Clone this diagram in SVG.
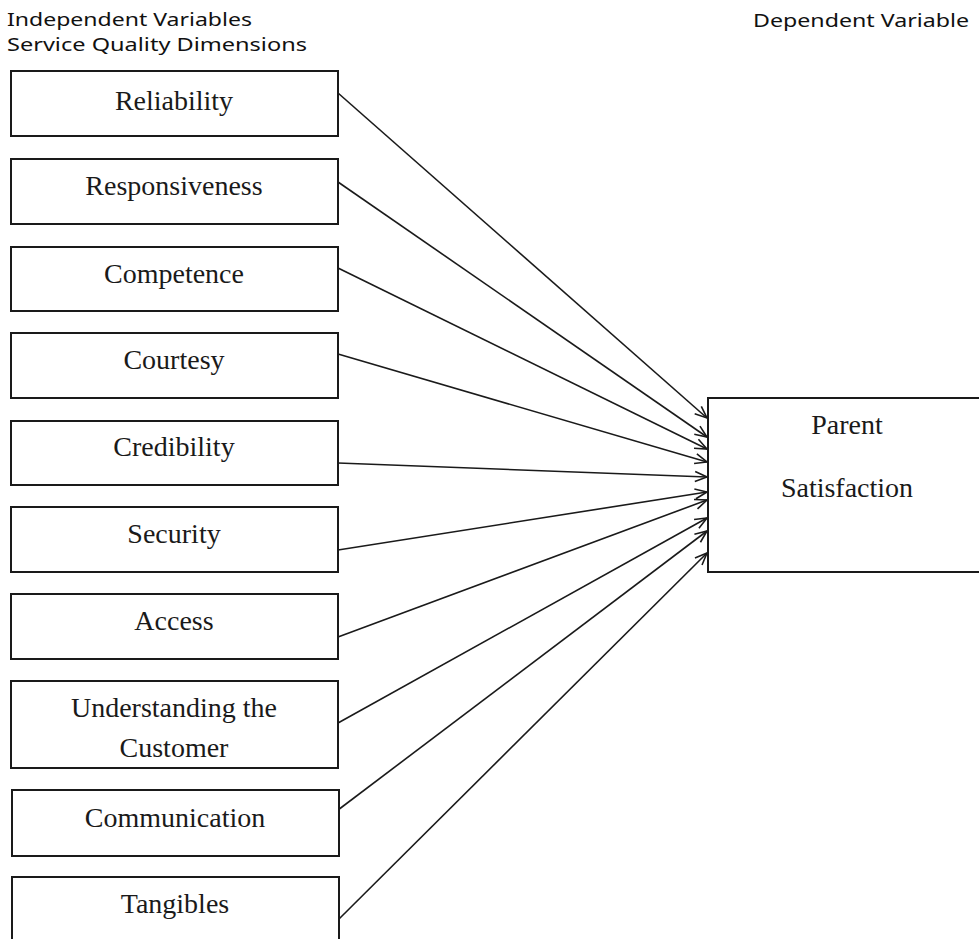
<svg xmlns="http://www.w3.org/2000/svg" width="979" height="939" viewBox="0 0 979 939">
<defs>
<marker id="ah" markerUnits="userSpaceOnUse" markerWidth="16" markerHeight="14" refX="13" refY="6" orient="auto" viewBox="0 0 16 12">
<path d="M1,1 L13,6 L1,11" fill="none" stroke="#1a1a1a" stroke-width="1.6"/>
</marker>
<style>
.box{fill:#fff;stroke:#1a1a1a;stroke-width:2}
.lbl{font-family:"Liberation Serif","Times New Roman",serif;font-size:28px;fill:#1a1a1a;text-anchor:middle}
.hdr{font-family:"Noto Sans","Noto Sans CJK KR",sans-serif;font-size:18px;fill:#111}
.con line{stroke:#1a1a1a;stroke-width:1.6;marker-end:url(#ah)}
</style>
</defs>
<rect width="979" height="939" fill="#fff"/>
<g id="headers">
<text class="hdr" x="7" y="26" textLength="245" lengthAdjust="spacingAndGlyphs">Independent  Variables</text>
<text class="hdr" x="7" y="51" textLength="300" lengthAdjust="spacingAndGlyphs">Service  Quality  Dimensions</text>
<text class="hdr" x="753" y="27" textLength="216" lengthAdjust="spacingAndGlyphs">Dependent  Variable</text>
</g>
<g class="con" id="connectors">
<line x1="338" y1="93" x2="707" y2="418"/>
<line x1="338" y1="182" x2="707" y2="437"/>
<line x1="338" y1="268" x2="707" y2="449"/>
<line x1="338" y1="354" x2="707" y2="462"/>
<line x1="338" y1="463" x2="707" y2="477"/>
<line x1="338" y1="550" x2="707" y2="492"/>
<line x1="338" y1="637" x2="707" y2="500"/>
<line x1="338" y1="723" x2="707" y2="518"/>
<line x1="338" y1="810" x2="707" y2="531"/>
<line x1="338" y1="920" x2="707" y2="553"/>
</g>
<g id="n-reliability"><rect class="box" x="11" y="71" width="327" height="65"/><text class="lbl" x="174" y="110">Reliability</text></g>
<g id="n-responsiveness"><rect class="box" x="11" y="159" width="327" height="65"/><text class="lbl" x="174" y="195">Responsiveness</text></g>
<g id="n-competence"><rect class="box" x="11" y="247" width="327" height="64"/><text class="lbl" x="174" y="283">Competence</text></g>
<g id="n-courtesy"><rect class="box" x="11" y="333" width="327" height="65"/><text class="lbl" x="174" y="369">Courtesy</text></g>
<g id="n-credibility"><rect class="box" x="11" y="421" width="327" height="64"/><text class="lbl" x="174" y="456">Credibility</text></g>
<g id="n-security"><rect class="box" x="11" y="507" width="327" height="65"/><text class="lbl" x="174" y="543">Security</text></g>
<g id="n-access"><rect class="box" x="11" y="594" width="327" height="65"/><text class="lbl" x="174" y="630">Access</text></g>
<g id="n-understanding"><rect class="box" x="11" y="681" width="327" height="87"/><text class="lbl" x="174" y="717">Understanding the</text><text class="lbl" x="174" y="757">Customer</text></g>
<g id="n-communication"><rect class="box" x="12" y="790" width="327" height="66"/><text class="lbl" x="175" y="827">Communication</text></g>
<g id="n-tangibles"><rect class="box" x="12" y="877" width="327" height="66"/><text class="lbl" x="175" y="913">Tangibles</text></g>
<g id="n-parent"><rect class="box" x="708" y="398" width="290" height="174"/><text class="lbl" x="847" y="434">Parent</text><text class="lbl" x="847" y="497">Satisfaction</text></g>
</svg>
